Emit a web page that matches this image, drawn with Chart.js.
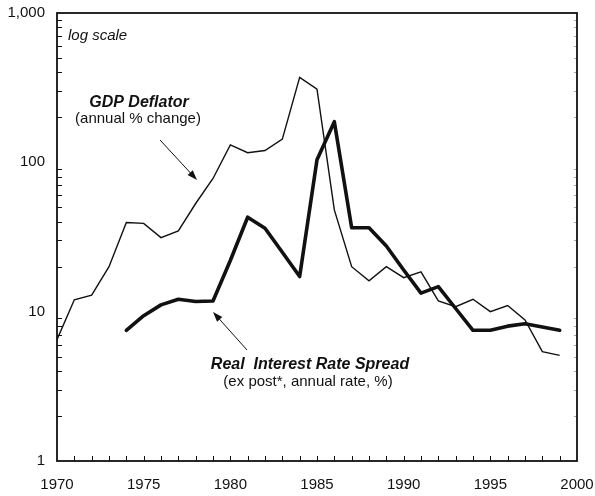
<!DOCTYPE html>
<html lang="en">

<head>
  <meta charset="UTF-8">
  <script src="https://cdn.jsdelivr.net/npm/chart.js"></script>
  <title>GDP Deflator and Real Interest Rate Spread</title>
  <style>
    html, body { margin: 0; padding: 0; background: #fff; }
    #wrap { width: 595px; height: 496px; }
  </style>
</head>

<body>
  <div id="wrap"><canvas id="chart" width="595" height="496"></canvas></div>

<script>
  // data (log scale, % per year)
  const deflatorYears = [1970, 1971, 1972, 1973, 1974, 1975, 1976, 1977, 1978, 1979, 1980, 1981, 1982, 1983, 1984,
    1985, 1986, 1987, 1988, 1989, 1990, 1991, 1992, 1993, 1994, 1995, 1996, 1997, 1998, 1999]
  const deflatorValues = [6.5, 12.0, 12.9, 20, 39.5, 39, 31.3, 34.7, 53, 78, 131, 116, 120, 143, 371,
    309, 48, 20, 16.1, 20, 16.9, 18.5, 11.8, 10.8, 12.1, 10, 11, 8.8, 5.4, 5.1]

  const spreadYears = [1974, 1975, 1976, 1977, 1978, 1979, 1980, 1981, 1982, 1983, 1984, 1985, 1986,
    1987, 1988, 1989, 1990, 1991, 1992, 1993, 1994, 1995, 1996, 1997, 1998, 1999]
  const spreadValues = [7.5, 9.4, 11.1, 12.1, 11.7, 11.8, 22, 42.9, 36.2, 25, 17.2, 104, 187,
    36.5, 36.5, 27.5, 19, 13.3, 14.7, 10.5, 7.5, 7.5, 8.0, 8.3, 7.9, 7.5]

  const yLabels = { 1: '1', 10: '10', 100: '100', 1000: '1,000' }
  const xLabelYears = [1970, 1975, 1980, 1985, 1990, 1995, 2000]

  const ink = '#111'

  const toPoints = (xs, ys) => xs.map((x, i) => ({ x, y: ys[i] }))

  function arrow(ctx, x1, y1, x2, y2) {
    const a = Math.atan2(y2 - y1, x2 - x1)
    ctx.beginPath()
    ctx.moveTo(x1, y1)
    ctx.lineTo(x2 - 6 * Math.cos(a), y2 - 6 * Math.sin(a))
    ctx.stroke()
    ctx.beginPath()
    ctx.moveTo(x2, y2)
    ctx.lineTo(x2 - 10 * Math.cos(a) + 3.5 * Math.sin(a), y2 - 10 * Math.sin(a) - 3.5 * Math.cos(a))
    ctx.lineTo(x2 - 10 * Math.cos(a) - 3.5 * Math.sin(a), y2 - 10 * Math.sin(a) + 3.5 * Math.cos(a))
    ctx.closePath()
    ctx.fill()
  }

  // frame, inward ticks and the text notes
  const framePlugin = {
    id: 'frame',
    afterDatasetsDraw(chart) {
      const { ctx, chartArea: a, scales } = chart
      const x = scales.x, y = scales.y
      ctx.save()
      ctx.strokeStyle = ink
      ctx.fillStyle = ink

      ctx.lineWidth = 1
      for (let yr = 1971; yr < 2000; yr++) {
        const px = Math.round(x.getPixelForValue(yr)) + 0.5
        ctx.beginPath()
        ctx.moveTo(px, a.bottom)
        ctx.lineTo(px, a.bottom - 5)
        ctx.stroke()
      }
      for (let d = 1; d < 1000; d *= 10) {
        for (let m = 2; m <= 9; m++) {
          const py = Math.round(y.getPixelForValue(d * m)) + 0.5
          ctx.beginPath()
          ctx.moveTo(a.left, py)
          ctx.lineTo(a.left + 5, py)
          ctx.stroke()
          ctx.strokeStyle = '#aaa'
          ctx.beginPath()
          ctx.moveTo(a.right, py)
          ctx.lineTo(a.right - 3, py)
          ctx.stroke()
          ctx.strokeStyle = ink
        }
      }

      ctx.lineWidth = 1.8
      ctx.strokeRect(a.left, a.top, a.right - a.left, a.bottom - a.top)

      ctx.textBaseline = 'middle'
      ctx.textAlign = 'left'
      ctx.font = 'italic 15px "Liberation Sans", Arial, sans-serif'
      ctx.fillText('log scale', a.left + 11, a.top + 23)

      ctx.textAlign = 'center'
      ctx.font = 'italic bold 16px "Liberation Sans", Arial, sans-serif'
      ctx.fillText('GDP Deflator', a.left + 82, a.top + 90)
      ctx.font = '15px "Liberation Sans", Arial, sans-serif'
      ctx.fillText('(annual % change)', a.left + 81, a.top + 106)

      ctx.font = 'italic bold 16px "Liberation Sans", Arial, sans-serif'
      ctx.fillText('Real  Interest Rate Spread', a.left + 253, a.top + 352)
      ctx.font = '15px "Liberation Sans", Arial, sans-serif'
      ctx.fillText('(ex post*, annual rate, %)', a.left + 251, a.top + 369)

      ctx.lineWidth = 1
      arrow(ctx, a.left + 103, a.top + 127, a.left + 140, a.top + 167)
      arrow(ctx, a.left + 190, a.top + 337, a.left + 156, a.top + 299)
      ctx.restore()
    }
  }

  new Chart(document.getElementById('chart'), {
    type: 'line',
    data: {
      datasets: [{
        label: 'GDP Deflator',
        data: toPoints(deflatorYears, deflatorValues),
        borderColor: ink,
        borderWidth: 1.4,
        pointRadius: 0,
        tension: 0,
      }, {
        label: 'Real Interest Rate Spread',
        data: toPoints(spreadYears, spreadValues),
        borderColor: ink,
        borderWidth: 3.6,
        pointRadius: 0,
        tension: 0,
        borderJoinStyle: 'round',
        borderCapStyle: 'round',
      }]
    },
    options: {
      responsive: false,
      animation: false,
      layout: { padding: { top: 13, right: 18, left: 0, bottom: 0 } },
      plugins: { legend: false, tooltip: { enabled: false } },
      scales: {
        x: {
          type: 'linear',
          min: 1970,
          max: 2000,
          grid: { display: false, drawTicks: false },
          border: { display: false },
          afterBuildTicks(scale) {
            scale.ticks = xLabelYears.map(v => ({ value: v }))
          },
          afterFit(scale) {
            scale.height = 35
            scale.paddingLeft = 0
            scale.paddingRight = 0
          },
          ticks: {
            padding: 15,
            color: ink,
            font: { size: 15, family: '"Liberation Sans", Arial, sans-serif' },
            maxRotation: 0,
            autoSkip: false,
            callback: v => String(v)
          }
        },
        y: {
          type: 'logarithmic',
          min: 1,
          max: 1000,
          grid: { display: false, drawTicks: false },
          border: { display: false },
          afterBuildTicks(scale) {
            scale.ticks = Object.keys(yLabels).map(v => ({ value: +v, major: true }))
          },
          afterFit(scale) {
            scale.width = 57
            scale.paddingTop = 0
            scale.paddingBottom = 0
          },
          ticks: {
            padding: 12,
            color: ink,
            font: { size: 15, family: '"Liberation Sans", Arial, sans-serif' },
            autoSkip: false,
            callback: v => yLabels[v] || ''
          }
        }
      }
    },
    plugins: [framePlugin]
  });
</script>

</body>

</html>
